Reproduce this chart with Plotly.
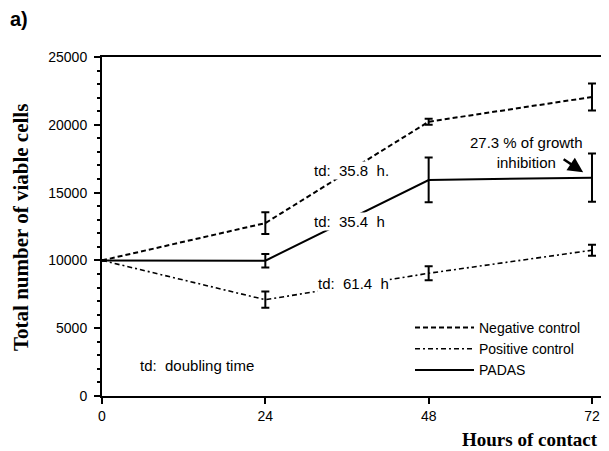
import plotly.graph_objects as go

# ---- data ----
hours = [0, 24, 48, 72]
neg_control = [10000, 12750, 20230, 22050]
neg_err = [None, 800, 220, 1000]
pos_control = [10000, 7100, 9050, 10750]
pos_err = [None, 600, 520, 400]
padas = [10000, 9980, 15930, 16100]
padas_err = [None, 500, 1650, 1780]
x_ticks = [0, 24, 48, 72]
y_ticks = [0, 5000, 10000, 15000, 20000, 25000]

SANS = "Liberation Sans, Arial, sans-serif"
SERIF = "Liberation Serif, Times New Roman, serif"

# page is rendered with the default 8px body margin: shrink the figure to compensate
OFF = 8
W, H = 609 - OFF, 451 - OFF
PL, PT, PB = 102 - OFF, 57 - OFF, 451 - 396  # plot area on the page: x 102..609, y 57..396
PW, PH = 507, 339


def px(xp):
    return (xp - 102) / PW


def py(yp):
    return (396 - yp) / PH


fig = go.Figure()


def add(name, y, err, dash, width):
    fig.add_trace(go.Scatter(
        x=hours, y=y, name=name, mode="lines",
        line=dict(color="black", width=width, dash=dash),
        error_y=dict(type="data", array=err, visible=True,
                     color="black", thickness=2, width=4),
    ))


add("Negative control", neg_control, neg_err, "5px,3px", 2)
add("Positive control", pos_control, pos_err, "5px,3px,2px,3px", 1.6)
add("PADAS", padas, padas_err, "solid", 2)

ann_font = dict(family=SANS, size=15, color="black")
sp = "\u00a0\u00a0"
annotations = [
    dict(x=36.7, y=16667, text="td:" + sp + "35.8" + sp + "h.", showarrow=False,
         font=ann_font, bgcolor="white", borderpad=0),
    dict(x=36.4, y=12855, text="td:" + sp + "35.4" + sp + "h", showarrow=False,
         font=ann_font, bgcolor="white", borderpad=0),
    dict(x=36.9, y=8311, text="td:" + sp + "61.4" + sp + "h", showarrow=False,
         font=ann_font, bgcolor="white", borderpad=0),
    dict(x=14.0, y=2286, text="td:" + sp + "doubling time", showarrow=False,
         font=ann_font),
    dict(x=62.4, y=17960, text="27.3 % of growth<br>inhibition", showarrow=False,
         font=ann_font, align="center"),
    dict(x=70.7, y=16500, ax=-21, ay=-14, text="", showarrow=True,
         arrowhead=2, arrowsize=1.2, arrowwidth=2.5, arrowcolor="black"),
    dict(xref="paper", yref="paper", x=px(21), y=py(228), xanchor="center", yanchor="middle",
         text="<b>Total number of viable cells</b>", textangle=-90, showarrow=False,
         font=dict(family=SERIF, size=21, color="black")),
    dict(xref="paper", yref="paper", x=px(600), y=py(439),
         xanchor="right", yanchor="middle", text="<b>Hours of contact</b>", showarrow=False,
         font=dict(family=SERIF, size=19, color="black")),
    dict(xref="paper", yref="paper", x=px(8), y=py(19),
         xanchor="left", yanchor="middle", text="<b>a)</b>", showarrow=False,
         font=dict(family=SANS, size=20, color="black")),
]

fig.update_layout(
    width=W, height=H,
    margin=dict(l=PL, r=0, t=PT, b=PB, autoexpand=False),
    paper_bgcolor="white", plot_bgcolor="white",
    showlegend=True,
    legend=dict(x=px(410), y=py(312), xanchor="left", yanchor="top",
                bgcolor="rgba(0,0,0,0)", font=dict(family=SANS, size=14, color="black"),
                itemwidth=59, tracegroupgap=0),
    annotations=annotations,
    xaxis=dict(range=[0, 74.5], tickvals=x_ticks, ticktext=[str(v) for v in x_ticks],
               showline=True, linecolor="black", linewidth=2, mirror=True,
               ticks="outside", ticklen=6, tickwidth=2, tickcolor="black",
               showgrid=False, zeroline=False,
               tickfont=dict(family=SANS, size=14, color="black")),
    yaxis=dict(range=[0, 25000], tickvals=y_ticks, ticktext=[str(v) for v in y_ticks],
               showline=True, linecolor="black", linewidth=2,
               ticks="outside", ticklen=6, tickwidth=2, tickcolor="black",
               minor=dict(dtick=1000, ticks="outside", ticklen=3, tickwidth=1.5, tickcolor="black"),
               showgrid=False, zeroline=False, ticklabelstandoff=4,
               tickfont=dict(family=SANS, size=14, color="black")),
)

fig.write_html("out.html")
